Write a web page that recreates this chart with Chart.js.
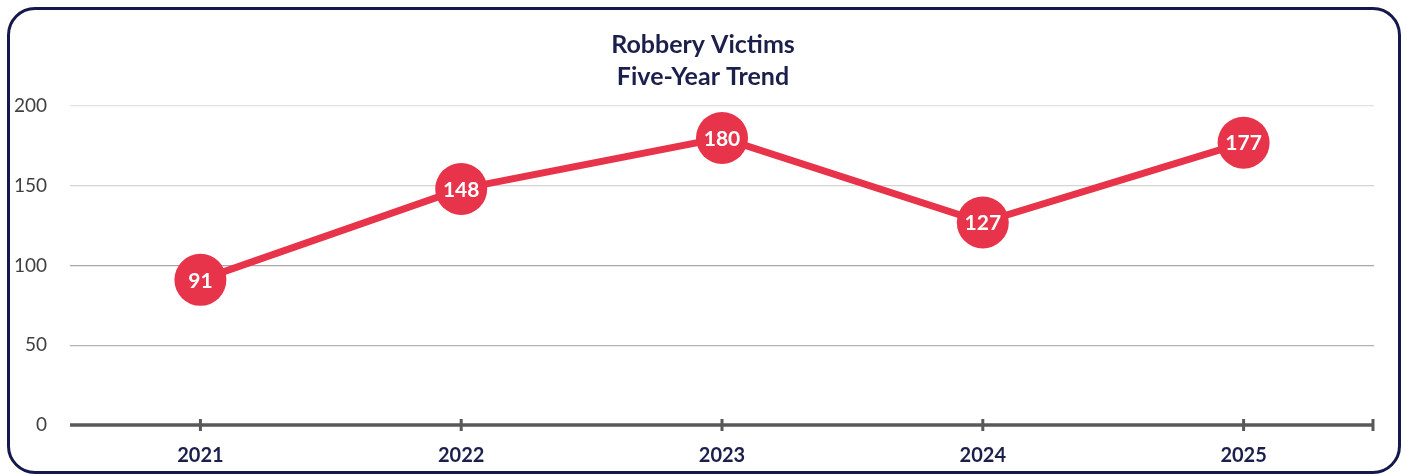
<!DOCTYPE html>
<html>
<head>
<meta charset="utf-8">
<script src="https://cdn.jsdelivr.net/npm/chart.js@4/dist/chart.umd.min.js"></script>
<style>
  html, body { margin: 0; padding: 0; background: #ffffff; }
  #wrap { position: relative; width: 1406px; height: 475px; }
  #frame { position: absolute; left: 7px; top: 7px; width: 1388px; height: 461px;
           border: 3px solid #14184a; border-radius: 28px; pointer-events: none; }
  canvas { position: absolute; left: 0; top: 0; }
</style>
</head>
<body>
<div id="wrap">
  <canvas id="c" width="1406" height="475"></canvas>
  <div id="frame"></div>
</div>
<script>
const titleLines = ["Robbery Victims", "Five-Year Trend"];
const years = ["2021", "2022", "2023", "2024", "2025"];
const victims = [91, 148, 180, 127, 177];
const yTicks = [0, 50, 100, 150, 200];
const gridColors = { 0: "rgba(0,0,0,0)", 50: "#b3b3b3", 100: "#a8a8a8", 150: "#d4d4d4", 200: "#e2e2e2" };

const RED = "#e8344a";
const NAVY = "#1b1f4b";
const FONT = "Lato, 'Open Sans', sans-serif";

const axisPlugin = {
  id: "axisLine",
  afterDraw(chart) {
    const ctx = chart.ctx, area = chart.chartArea, xs = chart.scales.x;
    ctx.save();
    ctx.strokeStyle = "#595959";
    ctx.lineWidth = 3.5;
    ctx.beginPath();
    ctx.moveTo(area.left, area.bottom);
    ctx.lineTo(area.right, area.bottom);
    ctx.stroke();
    ctx.lineWidth = 3;
    const xsPos = years.map((_, i) => xs.getPixelForValue(i));
    xsPos.push(area.right - 1);
    xsPos.forEach(px => {
      ctx.beginPath();
      ctx.moveTo(px, area.bottom - 6);
      ctx.lineTo(px, area.bottom + 6);
      ctx.stroke();
    });
    ctx.restore();
  },
  afterDatasetsDraw(chart) {
    const ctx = chart.ctx;
    const meta = chart.getDatasetMeta(0);
    ctx.save();
    ctx.fillStyle = "#ffffff";
    ctx.font = "bold 21px " + FONT;
    ctx.textAlign = "center";
    ctx.textBaseline = "middle";
    meta.data.forEach((pt, i) => {
      ctx.fillText(String(victims[i]), pt.x, pt.y + 1);
    });
    ctx.restore();
  }
};

new Chart(document.getElementById("c"), {
  type: "line",
  data: {
    labels: years,
    datasets: [{
      data: victims,
      yAxisID: "y",
      borderColor: RED,
      borderWidth: 7,
      backgroundColor: RED,
      pointBackgroundColor: RED,
      pointBorderWidth: 0,
      pointRadius: 26,
      pointHoverRadius: 26,
      tension: 0,
      clip: false
    }]
  },
  options: {
    responsive: false,
    animation: false,
    layout: { padding: { left: 0, right: 0, top: 18, bottom: 0 } },
    plugins: {
      legend: { display: false },
      tooltip: { enabled: false },
      title: {
        display: true,
        text: titleLines,
        color: NAVY,
        font: { family: FONT, size: 25, weight: "bold", lineHeight: 1.28 },
        padding: { top: 11, bottom: 13 }
      }
    },
    scales: {
      x: {
        offset: true,
        grid: { display: false },
        border: { display: false },
        ticks: {
          color: NAVY,
          font: { family: FONT, size: 20, weight: "bold" },
          padding: 11,
          maxRotation: 0
        },
        afterFit(scale) { scale.height = 50; }
      },
      y: {
        position: "left",
        min: 0,
        max: 200,
        afterBuildTicks(scale) { scale.ticks = yTicks.map(v => ({ value: v })); },
        grid: {
          drawTicks: false,
          color: ctx => gridColors[ctx.tick ? ctx.tick.value : 0] || "#d9d9d9",
          lineWidth: 1.3
        },
        border: { display: false },
        ticks: {
          color: "#404040",
          font: { family: FONT, size: 19 },
          padding: 23
        },
        afterFit(scale) { scale.width = 70; }
      },
      yRight: {
        position: "right",
        display: true,
        min: 0,
        max: 200,
        grid: { display: false },
        border: { display: false },
        ticks: { display: false },
        afterFit(scale) { scale.width = 32; }
      }
    }
  },
  plugins: [axisPlugin]
});
</script>
</body>
</html>
